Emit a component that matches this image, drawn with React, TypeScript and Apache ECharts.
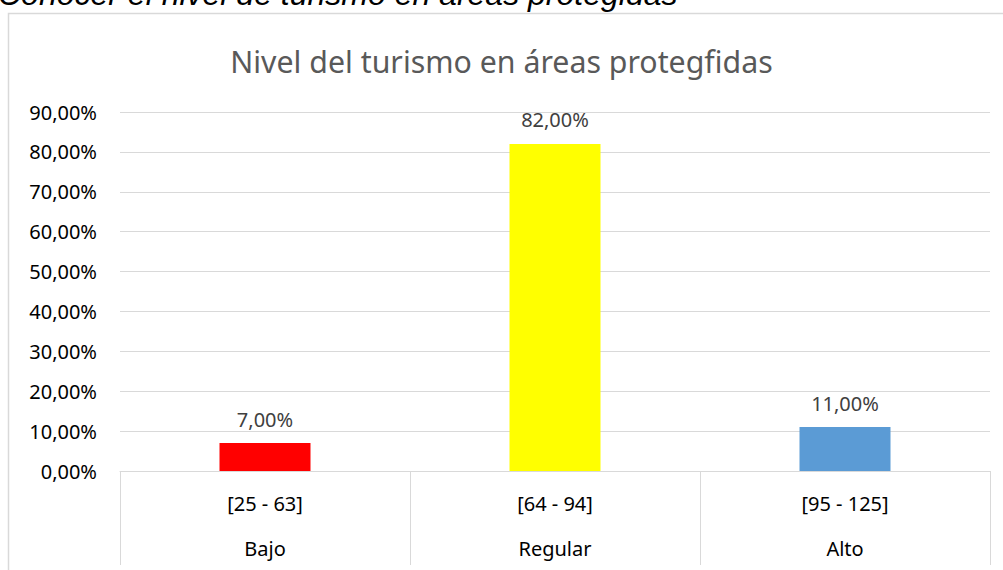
import React, { useEffect, useRef } from "react";
import * as echarts from "echarts";

const rangeLabels = ["[25 - 63]", "[64 - 94]", "[95 - 125]"];
const levelLabels = ["Bajo", "Regular", "Alto"];
const percentValues = [7, 82, 11];
const barColors = ["#FF0000", "#FFFF00", "#5B9BD5"];
const chartTitle = "Nivel del turismo en áreas protegfidas";
const headerText = "Conocer el nivel de turismo en áreas protegidas";

const fmt = (v: number) => v.toFixed(2).replace(".", ",") + "%";
const FONT = "'Noto Sans', 'Open Sans', sans-serif";

export default function App() {
  const ref = useRef<HTMLDivElement>(null);
  useEffect(() => {
    if (!ref.current) return;
    const chart = echarts.init(ref.current, null, { renderer: "svg" });
    chart.setOption({
      animation: false,
      backgroundColor: "#ffffff",
      textStyle: { fontFamily: FONT },
      title: {
        text: chartTitle,
        left: "center",
        top: 41,
        textStyle: { fontSize: 30.3, fontWeight: "normal", color: "#595959", fontFamily: FONT },
      },
      graphic: [
        {
          type: "rect",
          shape: { x: 8.5, y: 13.5, width: 1010, height: 600 },
          style: { fill: "none", stroke: "#d9d9d9", lineWidth: 1.5 },
          silent: true,
        },
        {
          type: "text",
          x: -2,
          y: 10,
          style: {
            text: headerText,
            font: "italic 32px 'Liberation Sans', Arial, sans-serif",
            fill: "#000000",
            verticalAlign: "bottom",
          },
          silent: true,
        },
      ],
      grid: { left: 120, right: 13, top: 112, bottom: 99, containLabel: false },
      xAxis: [
        {
          type: "category",
          data: rangeLabels,
          position: "bottom",
          axisLine: { show: true, lineStyle: { color: "#d9d9d9", width: 1 } },
          axisTick: { show: true, length: 94, lineStyle: { color: "#d9d9d9", width: 1 } },
          axisLabel: { margin: 22, fontSize: 20, color: "#000000", fontFamily: FONT },
        },
        {
          type: "category",
          data: levelLabels,
          position: "bottom",
          axisLine: { show: false },
          axisTick: { show: false },
          axisLabel: { margin: 67, fontSize: 20, color: "#000000", fontFamily: FONT },
        },
      ],
      yAxis: {
        type: "value",
        min: 0,
        max: 90,
        interval: 10,
        axisLine: { show: false },
        axisTick: { show: false },
        splitLine: { lineStyle: { color: "#d9d9d9", width: 1 } },
        axisLabel: { formatter: (v: number) => fmt(v), margin: 23, fontSize: 20, color: "#000000", fontFamily: FONT },
      },
      series: [
        {
          type: "bar",
          xAxisIndex: 0,
          barWidth: 91,
          data: percentValues.map((v, i) => ({ value: v, itemStyle: { color: barColors[i] } })),
          label: {
            show: true,
            position: "top",
            distance: 14,
            formatter: (p: any) => fmt(p.value),
            fontSize: 20,
            color: "#404040",
            fontFamily: FONT,
          },
        },
      ],
    });
    return () => chart.dispose();
  }, []);
  return <div ref={ref} style={{ position: "absolute", left: 0, top: 0, width: 1003, height: 570 }} />;
}
